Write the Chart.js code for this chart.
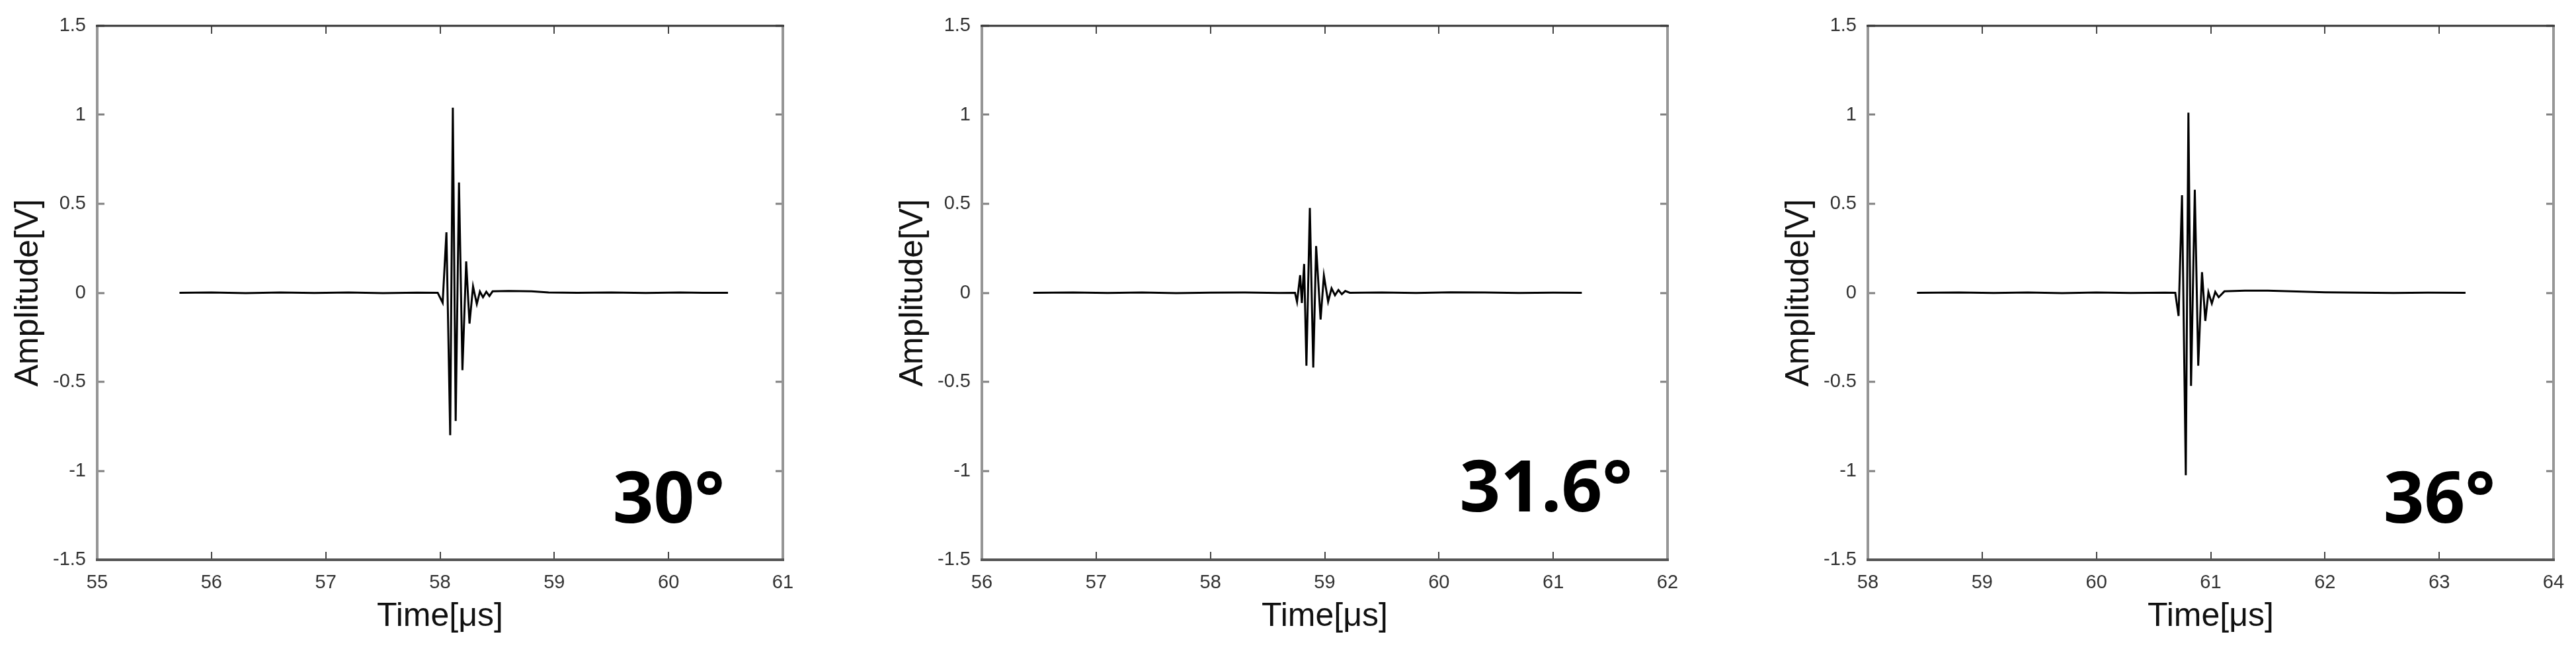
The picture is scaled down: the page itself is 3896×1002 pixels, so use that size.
<!DOCTYPE html>
<html>
<head>
<meta charset="utf-8">
<title>Waveforms</title>
<script src="https://cdn.jsdelivr.net/npm/chart.js@4.4.1/dist/chart.umd.min.js"></script>
<style>
  body { margin: 0; background: #fff; width: 3896px; height: 1002px; overflow: hidden; }
  canvas { position: absolute; top: 0; }
</style>
</head>
<body>
<canvas id="c30" width="1200" height="1002" style="left:0px"></canvas>
<canvas id="c316" width="1200" height="1002" style="left:1338px"></canvas>
<canvas id="c36" width="1200" height="1002" style="left:2678px"></canvas>
<script>
// 30 deg
const time30 = [55.72, 56.0, 56.3, 56.6, 56.9, 57.2, 57.5, 57.8, 57.98, 58.023, 58.056, 58.089, 58.112, 58.137, 58.166, 58.196, 58.229, 58.258, 58.289, 58.322, 58.349, 58.376, 58.405, 58.432, 58.46, 58.6, 58.8, 58.95, 59.2, 59.5, 59.8, 60.1, 60.3, 60.52];
const amp30  = [0, 0.002, -0.002, 0.002, -0.001, 0.002, -0.002, 0.001, 0, -0.056, 0.34, -0.80, 1.04, -0.72, 0.62, -0.435, 0.176, -0.173, 0.036, -0.063, 0.007, -0.025, 0.006, -0.018, 0.008, 0.01, 0.008, 0.002, 0, 0.002, -0.001, 0.002, 0, 0];

// 31.6 deg
const time316 = [56.45, 56.8, 57.1, 57.4, 57.7, 58.0, 58.3, 58.6, 58.74, 58.758, 58.785, 58.80, 58.82, 58.84, 58.87, 58.90, 58.925, 58.964, 58.993, 59.03, 59.06, 59.09, 59.12, 59.15, 59.18, 59.22, 59.5, 59.8, 60.1, 60.4, 60.7, 61.0, 61.25];
const amp316  = [0, 0.002, -0.001, 0.002, -0.002, 0.001, 0.002, -0.001, 0, -0.051, 0.099, -0.057, 0.162, -0.41, 0.477, -0.42, 0.263, -0.15, 0.097, -0.05, 0.025, -0.014, 0.016, -0.008, 0.01, 0, 0.002, -0.001, 0.003, 0.002, -0.001, 0.001, 0];

// 36 deg
const time36 = [58.43, 58.8, 59.1, 59.4, 59.7, 60.0, 60.3, 60.6, 60.69, 60.719, 60.749, 60.782, 60.805, 60.828, 60.861, 60.891, 60.924, 60.953, 60.98, 61.01, 61.04, 61.07, 61.12, 61.3, 61.5, 61.7, 62.0, 62.3, 62.6, 62.9, 63.23];
const amp36  = [0, 0.002, -0.001, 0.002, -0.002, 0.002, -0.001, 0.001, 0, -0.13, 0.548, -1.025, 1.012, -0.523, 0.579, -0.41, 0.116, -0.158, 0.003, -0.06, 0.005, -0.025, 0.008, 0.012, 0.012, 0.008, 0.003, 0.001, -0.001, 0.001, 0];

const yTicks = [-1.5, -1, -0.5, 0, 0.5, 1, 1.5];
const xRange30 = [55, 61];
const xRange316 = [56, 62];
const xRange36 = [58, 64];

const tickFont = {family: 'Liberation Sans', size: 29};
const titleFont = {family: 'Liberation Sans', size: 50};

// matlab style box: inward ticks on all sides + angle label
const framePlugin = {
    id: 'frame',
    afterDraw(chart, args, opts) {
        const {ctx, chartArea: a} = chart;
        const x = chart.scales.x, y = chart.scales.y;
        ctx.save();

        ctx.strokeStyle = '#444';
        ctx.lineWidth = 2;
        x.ticks.forEach(t => {
            const px = Math.round(x.getPixelForValue(t.value));
            ctx.beginPath();
            ctx.moveTo(px, a.bottom); ctx.lineTo(px, a.bottom - 12);
            ctx.moveTo(px, a.top); ctx.lineTo(px, a.top + 12);
            ctx.stroke();
        });
        ctx.strokeStyle = '#808080';
        ctx.lineWidth = 3;
        y.ticks.forEach(t => {
            const py = Math.round(y.getPixelForValue(t.value));
            ctx.beginPath();
            ctx.moveTo(a.left, py); ctx.lineTo(a.left + 11, py);
            ctx.moveTo(a.right, py); ctx.lineTo(a.right - 11, py);
            ctx.stroke();
        });

        // box edges
        ctx.lineWidth = 4;
        ctx.strokeStyle = '#969696';
        ctx.beginPath();
        ctx.moveTo(a.left, a.top); ctx.lineTo(a.left, a.bottom);
        ctx.moveTo(a.right, a.top); ctx.lineTo(a.right, a.bottom);
        ctx.stroke();
        ctx.lineWidth = 3;
        ctx.strokeStyle = '#333';
        ctx.beginPath();
        ctx.moveTo(a.left - 2, a.top); ctx.lineTo(a.right + 2, a.top);
        ctx.stroke();
        ctx.lineWidth = 4;
        ctx.strokeStyle = '#555';
        ctx.beginPath();
        ctx.moveTo(a.left - 2, a.bottom); ctx.lineTo(a.right + 2, a.bottom);
        ctx.stroke();

        ctx.fillStyle = '#000';
        ctx.font = 'bold 108px "Noto Sans"';
        ctx.textAlign = 'right';
        ctx.textBaseline = 'alphabetic';
        ctx.fillText(opts.text, a.right - opts.dx, a.bottom - opts.dy);
        ctx.restore();
    }
};

function makeChart(id, times, amps, xRange, label, dx, dy) {
    const points = times.map((t, i) => ({x: t, y: amps[i]}));
    return new Chart(document.getElementById(id), {
        type: 'line',
        data: {
            datasets: [{
                data: points,
                borderColor: '#000',
                borderWidth: 3,
                pointRadius: 0,
                tension: 0,
                fill: false
            }]
        },
        options: {
            responsive: false,
            animation: false,
            devicePixelRatio: 1,
            layout: {padding: {top: 39, right: 16, bottom: 0, left: 0}},
            plugins: {
                legend: {display: false},
                tooltip: {enabled: false},
                frame: {text: label, dx: dx, dy: dy}
            },
            scales: {
                x: {
                    type: 'linear',
                    min: xRange[0],
                    max: xRange[1],
                    // fixed box, no extra room for the end labels
                    afterFit: s => { s.height = 156; s.paddingLeft = 0; s.paddingRight = 0; },
                    grid: {display: false, drawTicks: false},
                    border: {display: false},
                    ticks: {stepSize: 1, padding: 18, color: '#333', font: tickFont, maxRotation: 0, autoSkip: false,
                            callback: v => String(v)},
                    title: {display: true, text: 'Time[μs]', color: '#111', font: titleFont, padding: {top: 0, bottom: 40}}
                },
                y: {
                    type: 'linear',
                    min: yTicks[0],
                    max: yTicks[yTicks.length - 1],
                    afterFit: s => { s.width = 147; s.paddingTop = 0; s.paddingBottom = 0; },
                    afterBuildTicks: s => { s.ticks = yTicks.map(v => ({value: v})); },
                    grid: {display: false, drawTicks: false},
                    border: {display: false},
                    ticks: {padding: 17, color: '#333', font: tickFont, autoSkip: false, callback: v => String(v)},
                    title: {display: true, text: 'Amplitude[V]', color: '#111', font: titleFont, padding: {top: 13, bottom: 0}}
                }
            }
        },
        plugins: [framePlugin]
    });
}

makeChart('c30', time30, amp30, xRange30, '30°', 88, 56);
makeChart('c316', time316, amp316, xRange316, '31.6°', 53, 73);
makeChart('c36', time36, amp36, xRange36, '36°', 88, 56);
</script>
</body>
</html>
